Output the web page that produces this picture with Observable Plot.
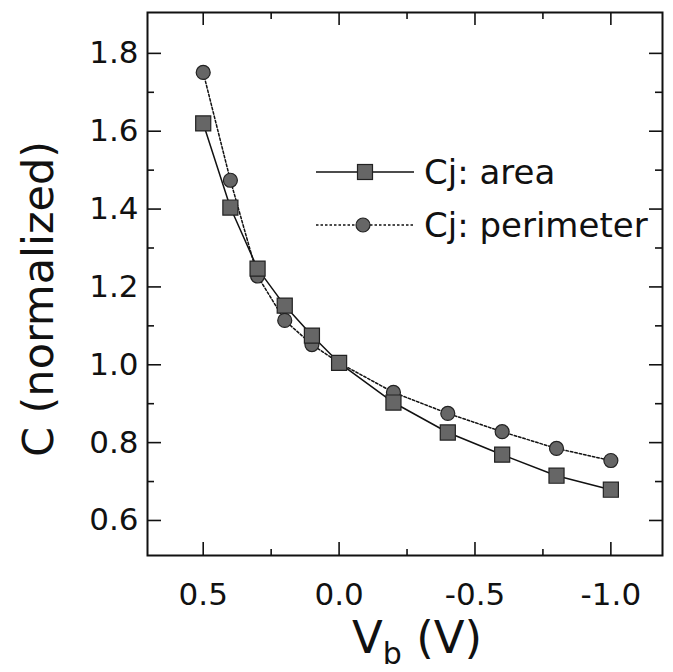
<!DOCTYPE html>
<html>
<head>
<meta charset="utf-8">
<script src="https://cdn.jsdelivr.net/npm/d3@7"></script>
<script src="https://cdn.jsdelivr.net/npm/@observablehq/plot@0.6"></script>
<style>
  body { margin: 0; background: #fff; }
  svg { display: block; }
</style>
</head>
<body>
<div id="chart"></div>
<script>
// ---- data ----
const vb = [0.5, 0.4, 0.3, 0.2, 0.1, 0.0, -0.2, -0.4, -0.6, -0.8, -1.0];
const cjArea = [1.62, 1.404, 1.247, 1.152, 1.075, 1.005, 0.903, 0.826, 0.769, 0.715, 0.679];
const cjPerimeter = [1.751, 1.474, 1.228, 1.114, 1.052, 1.005, 0.929, 0.875, 0.828, 0.785, 0.754];
const seriesNames = ["Cj: area", "Cj: perimeter"];
const xMajorTicks = [0.5, 0.0, -0.5, -1.0];
const xMinorTicks = [0.25, -0.25, -0.75];
const yMajorTicks = [0.6, 0.8, 1.0, 1.2, 1.4, 1.6, 1.8];
const yMinorTicks = [0.7, 0.9, 1.1, 1.3, 1.5, 1.7];
const yLabel = "C (normalized)";
const xLabelMain = "V";
const xLabelSub = "b";
const xLabelUnit = " (V)";

const areaData = vb.map((v, i) => ({v, c: cjArea[i]}));
const perimData = vb.map((v, i) => ({v, c: cjPerimeter[i]}));

const W = 673, H = 672;
const mL = 147, mR = 11, mT = 12, mB = 117;
const plotW = W - mL - mR, plotH = H - mT - mB;

const fmt = d => d.toFixed(1);
const ink = "#111";
const markerFill = "#666";
const markerStroke = "#222";
const font = "DejaVu Sans";
const tickW = 1.6;

// inward tick helpers (length in px from the frame edge)
const ticksBottom = (data, len) => Plot.tickX(data, {x: d => d, insetTop: plotH - len, stroke: ink, strokeWidth: tickW});
const ticksTop = (data, len) => Plot.tickX(data, {x: d => d, insetBottom: plotH - len, stroke: ink, strokeWidth: tickW});
const ticksLeft = (data, len) => Plot.tickY(data, {y: d => d, insetRight: plotW - len, stroke: ink, strokeWidth: tickW});
const ticksRight = (data, len) => Plot.tickY(data, {y: d => d, insetLeft: plotW - len, stroke: ink, strokeWidth: tickW});

const chart = Plot.plot({
  width: W,
  height: H,
  marginLeft: mL,
  marginRight: mR,
  marginTop: mT,
  marginBottom: mB,
  style: {fontFamily: font, background: "#fff", color: ink},
  x: {domain: [0.705, -1.19]},
  y: {domain: [0.51, 1.905]},
  marks: [
    // tick labels
    Plot.axisX(xMajorTicks, {tickSize: 0, tickPadding: 27, tickFormat: fmt, fontSize: 31, label: null, fill: ink}),
    Plot.axisY(yMajorTicks, {tickSize: 0, tickPadding: 9, tickFormat: fmt, fontSize: 31, label: null, fill: ink}),
    // inward ticks, all four sides
    ticksBottom(xMajorTicks, 13),
    ticksBottom(xMinorTicks, 6),
    ticksTop(xMajorTicks, 13),
    ticksTop(xMinorTicks, 7),
    ticksLeft(yMajorTicks, 14),
    ticksLeft(yMinorTicks, 7),
    ticksRight(yMajorTicks, 13),
    ticksRight(yMinorTicks, 7),
    Plot.frame({stroke: ink, strokeWidth: 2}),
    // series
    Plot.line(areaData, {x: "v", y: "c", stroke: ink, strokeWidth: 1.5}),
    Plot.line(perimData, {x: "v", y: "c", stroke: ink, strokeWidth: 1.5, strokeDasharray: "2.5,2"}),
    Plot.dot(perimData, {x: "v", y: "c", symbol: "circle", r: 7, fill: markerFill, stroke: markerStroke, strokeWidth: 1.2}),
    Plot.dot(areaData, {x: "v", y: "c", symbol: "square", r: 8.5, fill: markerFill, stroke: markerStroke, strokeWidth: 1.2})
  ]
});

document.getElementById("chart").append(chart);

const svg = d3.select(chart);

// axis titles
svg.append("text")
  .attr("transform", "translate(53,299) rotate(-90)")
  .attr("text-anchor", "middle")
  .attr("font-family", font)
  .attr("font-size", 43)
  .attr("fill", ink)
  .text(yLabel);

const xl = svg.append("text")
  .attr("x", 352)
  .attr("y", 653)
  .attr("text-anchor", "start")
  .attr("font-family", font)
  .attr("font-size", 45)
  .attr("fill", ink);
xl.append("tspan").text(xLabelMain);
xl.append("tspan").attr("font-size", 30).attr("dy", 11).text(xLabelSub);
xl.append("tspan").attr("font-size", 45).attr("dy", -11).text(xLabelUnit);

// legend
const lg = svg.append("g")
  .attr("font-family", font)
  .attr("font-size", 34)
  .attr("text-anchor", "start")
  .attr("fill", ink);
const entries = [
  {name: seriesNames[0], y: 172, dash: null, sym: "square"},
  {name: seriesNames[1], y: 225, dash: "2.5,2", sym: "circle"}
];
entries.forEach(e => {
  lg.append("line")
    .attr("x1", 316).attr("x2", 414).attr("y1", e.y).attr("y2", e.y)
    .attr("stroke", ink).attr("stroke-width", 1.5)
    .attr("stroke-dasharray", e.dash);
  if (e.sym === "square") {
    lg.append("rect").attr("x", 357.5).attr("y", e.y - 7.5).attr("width", 15).attr("height", 15)
      .attr("fill", markerFill).attr("stroke", markerStroke).attr("stroke-width", 1.2);
  } else {
    lg.append("circle").attr("cx", 363).attr("cy", e.y).attr("r", 7)
      .attr("fill", markerFill).attr("stroke", markerStroke).attr("stroke-width", 1.2);
  }
  lg.append("text").attr("x", 424).attr("y", e.y + 12).text(e.name);
});
</script>
</body>
</html>
